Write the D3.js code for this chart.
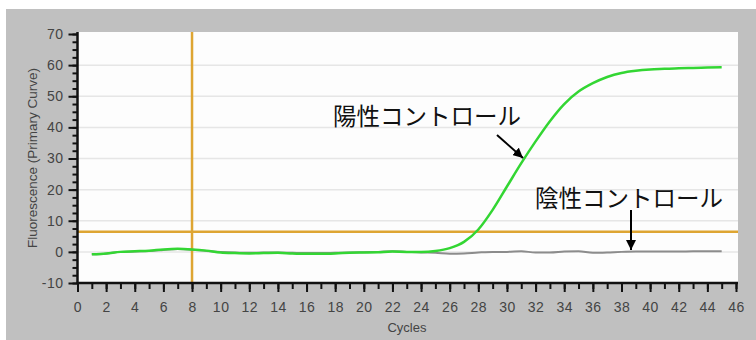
<!DOCTYPE html>
<html><head><meta charset="utf-8">
<script src="https://cdn.jsdelivr.net/npm/d3@7"></script>
<style>
html,body{margin:0;padding:0;background:#fff;}
svg{display:block;}
</style></head>
<body>
<svg id="chart" width="756" height="340"></svg>
<script>
const cycles = d3.range(1, 46);
const positiveControl = [-0.8,-0.5,0,0.2,0.4,0.8,1.0,0.8,0.4,-0.2,-0.4,-0.5,-0.4,-0.3,-0.5,-0.6,-0.6,-0.5,-0.3,-0.2,-0.1,0.1,0,0,0.3,1.2,3.2,7.2,13.5,21,28.5,35.5,42,47.5,51.5,54.2,56.2,57.5,58.2,58.6,58.8,59,59.1,59.2,59.3];
const negativeControl = [-0.8,-0.6,0,0.1,0.3,0.6,0.9,0.7,0.3,0,-0.2,-0.3,-0.2,-0.2,-0.3,-0.4,-0.4,-0.3,-0.2,-0.1,0,0.2,0,-0.2,-0.3,-0.6,-0.5,-0.2,0,0,0.2,-0.2,-0.2,0.1,0.2,-0.3,-0.2,0,0.1,0.1,0.1,0.1,0.2,0.2,0.2];
const xTickValues = d3.range(0, 47, 2);
const yTickValues = [-10,0,10,20,30,40,50,60,70];
const threshold = 6.5;
const cycleMarker = 8;
const yTitle = "Fluorescence (Primary Curve)";
const xTitle = "Cycles";
const posLabel = "陽性コントロール";
const negLabel = "陰性コントロール";

const svg = d3.select("#chart");
const x = d3.scaleLinear().domain([0, 46]).range([77.5, 736]);
const y = d3.scaleLinear().domain([-10, 70]).range([283, 34]);

// frame
svg.append("rect").attr("x",6).attr("y",9).attr("width",750).attr("height",331).attr("fill","#c0c0c0");
svg.append("rect").attr("x",78).attr("y",32).attr("width",660).attr("height",251).attr("fill","#fdfdfd");

// gridlines
svg.append("g").selectAll("line").data(yTickValues.filter(v=>v>-10 && v<70)).join("line")
  .attr("x1",78).attr("x2",738).attr("y1",d=>y(d)).attr("y2",d=>y(d))
  .attr("stroke","#e6e6e6").attr("stroke-width",1.5);

// threshold & cycle marker
const orange = "#dea532";
svg.append("line").attr("x1",78).attr("x2",738).attr("y1",y(threshold)).attr("y2",y(threshold))
  .attr("stroke",orange).attr("stroke-width",2.5);
svg.append("line").attr("x1",x(cycleMarker)).attr("x2",x(cycleMarker)).attr("y1",32).attr("y2",283)
  .attr("stroke",orange).attr("stroke-width",2.5);

// lines
const line = d3.line().x((d,i)=>x(cycles[i])).y(d=>y(d)).curve(d3.curveMonotoneX);
svg.append("path").datum(negativeControl).attr("d",line).attr("fill","none")
  .attr("stroke","#8c8c8c").attr("stroke-width",2);
svg.append("path").datum(positiveControl).attr("d",line).attr("fill","none")
  .attr("stroke","#33d633").attr("stroke-width",2.5);

// axes
const fmt = d => String(d);
const xAxisMinor = d3.axisBottom(x).tickValues(d3.range(0,47,1)).tickSize(6).tickFormat("");
const xAxis = d3.axisBottom(x).tickValues(xTickValues).tickSize(9).tickPadding(10).tickFormat(fmt);
const yAxisMinor = d3.axisLeft(y).tickValues(d3.range(-10,70.1,2.5)).tickSize(5).tickFormat("");
const yAxis = d3.axisLeft(y).tickValues(yTickValues).tickSize(9).tickPadding(5).tickFormat(fmt);

function style(g){
  g.select(".domain").remove();
  g.selectAll(".tick line").attr("stroke","#111").attr("stroke-width",2);
  g.selectAll(".tick text").attr("fill","#444").attr("font-family","'Liberation Sans', Arial, sans-serif").attr("font-size",14);
}
svg.append("g").attr("transform","translate(0,283)").call(xAxisMinor).call(style);
svg.append("g").attr("transform","translate(0,283)").call(xAxis).call(style);
svg.append("g").attr("transform","translate(77.5,0)").call(yAxisMinor).call(style);
svg.append("g").attr("transform","translate(77.5,0)").call(yAxis).call(style);
svg.selectAll(".tick text").attr("letter-spacing","0.5px");

svg.append("line").attr("x1",77.5).attr("x2",77.5).attr("y1",32).attr("y2",284).attr("stroke","#111").attr("stroke-width",2.5);
svg.append("line").attr("x1",76.5).attr("x2",738).attr("y1",283).attr("y2",283).attr("stroke","#111").attr("stroke-width",2.5);

// titles
svg.append("text").attr("x",407).attr("y",332).attr("text-anchor","middle")
  .attr("font-family","'Liberation Sans', Arial, sans-serif").attr("font-size",13).attr("fill","#444").text(xTitle);
svg.append("text").attr("transform","translate(37,158) rotate(-90)").attr("text-anchor","middle")
  .attr("font-family","'Liberation Sans', Arial, sans-serif").attr("font-size",13.5).attr("fill","#444").text(yTitle);

// annotations
const defs = svg.append("defs");
defs.append("marker").attr("id","ah").attr("viewBox","0 0 10 10").attr("refX",10).attr("refY",5)
  .attr("markerWidth",5).attr("markerHeight",5).attr("orient","auto")
  .append("path").attr("d","M0,0 L10,5 L0,10 Z").attr("fill","#000");

const jp = "'Noto Sans CJK JP', 'Noto Sans CJK SC', sans-serif";
svg.append("text").attr("x",333).attr("y",125).attr("font-family",jp).attr("font-size",23.5).attr("fill","#111").text(posLabel);
svg.append("line").attr("x1",497).attr("y1",135).attr("x2",523).attr("y2",158)
  .attr("stroke","#000").attr("stroke-width",2).attr("marker-end","url(#ah)");
svg.append("text").attr("x",535).attr("y",207).attr("font-family",jp).attr("font-size",23.5).attr("fill","#111").text(negLabel);
svg.append("line").attr("x1",631).attr("y1",210).attr("x2",631).attr("y2",250)
  .attr("stroke","#000").attr("stroke-width",2).attr("marker-end","url(#ah)");
</script>
</body></html>
